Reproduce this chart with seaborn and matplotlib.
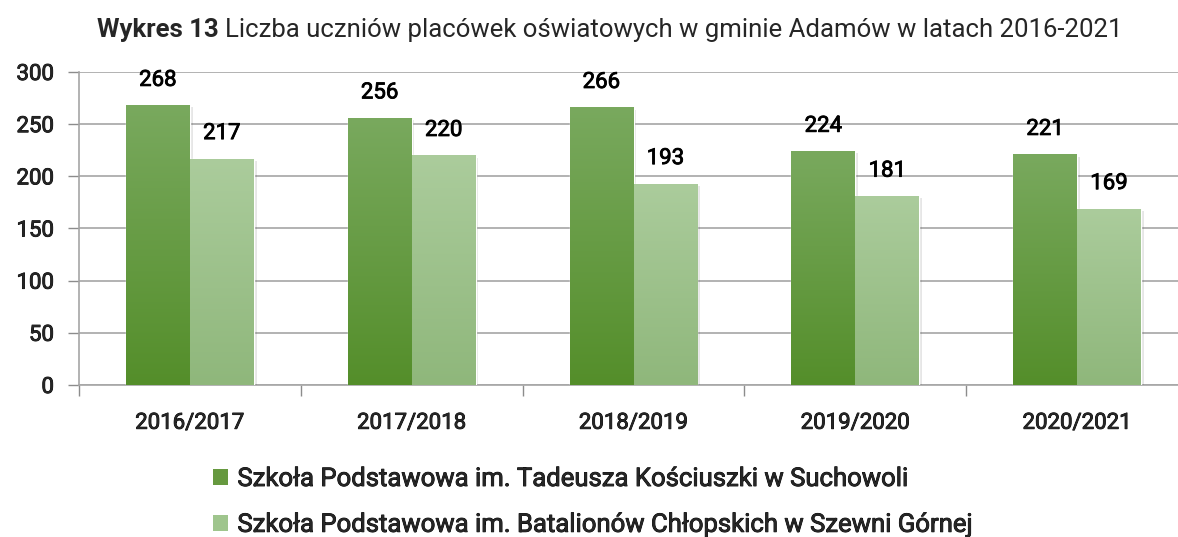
import numpy as np
import pandas as pd
import matplotlib

matplotlib.use("Agg")
import matplotlib.pyplot as plt
import seaborn as sns
from matplotlib import patheffects
from matplotlib.colors import LinearSegmentedColormap
from matplotlib.patches import Patch

# dane z wykresu
lata = ["2016/2017", "2017/2018", "2018/2019", "2019/2020", "2020/2021"]
suchowola = [268, 256, 266, 224, 221]
szewnia = [217, 220, 193, 181, 169]
nazwy_szkol = [
    "Szkoła Podstawowa im. Tadeusza Kościuszki w Suchowoli",
    "Szkoła Podstawowa im. Batalionów Chłopskich w Szewni Górnej",
]
podziałka_y = [0, 50, 100, 150, 200, 250, 300]

# kolory (gora -> dol gradientu)
gradienty = [("#79a95e", "#548e2a"), ("#abcc9c", "#8fb77b")]
kolory_legendy = ["#66993f", "#9fc58d"]

# lekkie pogrubienie tekstu (krój w oryginale jest "medium")
pogrubienie = [patheffects.withStroke(linewidth=0.6, foreground="black")]

df = pd.DataFrame(
    {
        "rok": lata * 2,
        "liczba": suchowola + szewnia,
        "szkola": [nazwy_szkol[0]] * len(lata) + [nazwy_szkol[1]] * len(lata),
    }
)

sns.set_theme(style="white")
plt.rcParams["font.family"] = ["Roboto", "DejaVu Sans"]

fig = plt.figure(figsize=(11.78, 5.37), dpi=100)
ax = fig.add_axes([79 / 1178, 1 - 385 / 537, 1109 / 1178, 313 / 537])

sns.barplot(
    data=df,
    x="rok",
    y="liczba",
    hue="szkola",
    palette=kolory_legendy,
    width=0.577,
    gap=0,
    ax=ax,
    legend=False,
    zorder=3,
)

ax.set_ylim(0, 300)
ax.set_xlim(-0.5, len(lata) - 0.5)

# gradient i cien na slupkach
slupki = [p for p in ax.patches if p.get_height() > 0]
for i, p in enumerate(slupki):
    seria = i // len(lata)
    gora, dol = gradienty[seria]
    cmap = LinearSegmentedColormap.from_list(f"g{seria}", [dol, gora])
    x0, w, h = p.get_x(), p.get_width(), p.get_height()
    p.set_path_effects(
        [
            patheffects.SimplePatchShadow(offset=(2, -1.5), alpha=0.12, shadow_rgbFace="#333333"),
            patheffects.Normal(),
        ]
    )
    grad = np.linspace(0, 1, 256).reshape(-1, 1)
    im = ax.imshow(
        grad,
        extent=[x0, x0 + w, 0, h],
        origin="lower",
        cmap=cmap,
        aspect="auto",
        zorder=4,
    )
    im.set_clip_path(p)
    ax.annotate(
        f"{int(h)}",
        (x0 + w / 2, h),
        xytext=(0, 18),
        textcoords="offset points",
        ha="center",
        va="center",
        fontsize=16,
        color="black",
        path_effects=pogrubienie,
    )

ax.set_ylim(0, 300)
ax.set_xlim(-0.5, len(lata) - 0.5)
ax.set_yticks(podziałka_y)
ax.set_yticklabels([str(v) for v in podziałka_y], fontsize=16, path_effects=pogrubienie)
ax.set_xticks(range(len(lata)))
ax.set_xticklabels(lata, fontsize=16, path_effects=pogrubienie)
ax.set_xticks(np.arange(-0.5, len(lata), 1), minor=True)
ax.tick_params(axis="x", which="major", length=0, pad=20)
ax.tick_params(axis="x", which="minor", length=8, width=1, color="#8c8c8c", direction="out", bottom=True)
ax.tick_params(axis="y", length=8, width=1, color="#8c8c8c", direction="out", left=True, pad=10)
ax.set_xlabel("")
ax.set_ylabel("")

ax.yaxis.grid(True, color="#a6a6a6", linewidth=1.2)
ax.set_axisbelow(True)
for strona in ["top", "right"]:
    ax.spines[strona].set_visible(False)
for strona in ["left", "bottom"]:
    ax.spines[strona].set_color("#a6a6a6")
    ax.spines[strona].set_linewidth(1.2)

# tytul: pogrubiony poczatek + reszta
t1 = fig.text(97 / 1178, 1 - 30 / 537, "Wykres 13", fontsize=18.5, fontweight="bold", va="center")
fig.canvas.draw()
bb = t1.get_window_extent()
fig.text(
    (bb.x1 + 6) / 1178,
    1 - 30 / 537,
    "Liczba uczniów placówek oświatowych w gminie Adamów w latach 2016-2021",
    fontsize=18.5,
    va="center",
)

# legenda pod wykresem
uchwyty = [Patch(facecolor=k, edgecolor="none") for k in kolory_legendy]
leg = fig.legend(
    uchwyty,
    nazwy_szkol,
    loc="upper left",
    bbox_to_anchor=(213 / 1178, 1 - 467 / 537),
    frameon=False,
    borderpad=0,
    borderaxespad=0,
    handlelength=0.6,
    handleheight=0.6,
    handletextpad=0.35,
    labelspacing=0.85,
    prop={"size": 18.5},
)
for t in leg.get_texts():
    t.set_path_effects(pogrubienie)

fig.savefig("out.png", dpi=100)
